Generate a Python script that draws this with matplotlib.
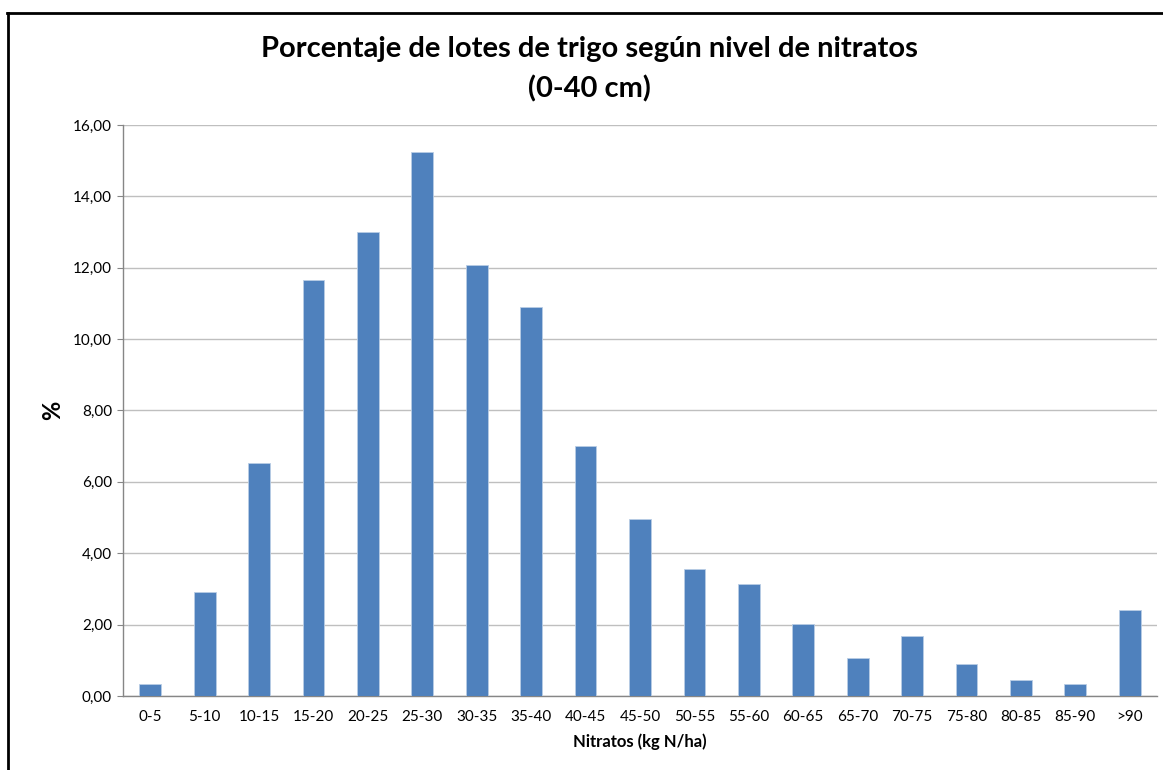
import matplotlib
matplotlib.use("Agg")
import matplotlib.pyplot as plt
from matplotlib.lines import Line2D
from matplotlib.ticker import FuncFormatter
import numpy as np

plt.rcParams['font.family'] = ['Lato', 'DejaVu Sans']

categories = ['0-5', '5-10', '10-15', '15-20', '20-25', '25-30', '30-35', '35-40',
              '40-45', '45-50', '50-55', '55-60', '60-65', '65-70', '70-75', '75-80',
              '80-85', '85-90', '>90']
percent = [0.34, 2.91, 6.52, 11.65, 13.00, 15.25, 12.08, 10.89, 7.00, 4.95,
           3.56, 3.13, 2.02, 1.06, 1.68, 0.90, 0.45, 0.34, 2.41]

fig = plt.figure(figsize=(11.63, 7.70), dpi=100)
ax = fig.add_axes([0.1058, 0.0961, 0.889, 0.7416])

x = np.arange(len(categories))
ax.bar(x, percent, width=0.4, color='#4F81BD', edgecolor='#B9CDE5', linewidth=0.6, zorder=3)

ax.set_xlim(-0.5, len(categories) - 0.5)
ax.set_ylim(0, 16)
ax.set_yticks(np.arange(0, 16.1, 2))
ax.yaxis.set_major_formatter(FuncFormatter(lambda v, p: f"{v:.2f}".replace('.', ',')))
ax.set_xticks(x)
ax.set_xticklabels(categories)
ax.grid(axis='y', color='#BFBFBF', linewidth=1.0, zorder=0)

for s in ['top', 'right']:
    ax.spines[s].set_visible(False)
for s in ['left', 'bottom']:
    ax.spines[s].set_color('#868686')
    ax.spines[s].set_linewidth(1.0)

ax.tick_params(axis='y', length=4, color='#868686', labelsize=11, pad=4)
ax.tick_params(axis='x', length=0, labelsize=11, pad=10)

ax.set_xlabel('Nitratos (kg N/ha)', fontsize=12, fontweight='bold', labelpad=7)
ax.set_ylabel('%', fontsize=17, fontweight='bold', labelpad=6)

fig.text(0.507, 0.937, 'Porcentaje de lotes de trigo según nivel de nitratos',
         ha='center', va='center', fontsize=21, fontweight='bold')
fig.text(0.507, 0.885, '(0-40 cm)', ha='center', va='center', fontsize=21, fontweight='bold')

# chart frame (top and left edges visible)
fig.add_artist(Line2D([7 / 1163, 1.0], [1 - 13 / 770, 1 - 13 / 770], transform=fig.transFigure,
                      color='black', linewidth=2))
fig.add_artist(Line2D([8 / 1163, 8 / 1163], [1 - 13 / 770, 0.0], transform=fig.transFigure,
                      color='black', linewidth=2))

fig.savefig('out.png', dpi=100)
